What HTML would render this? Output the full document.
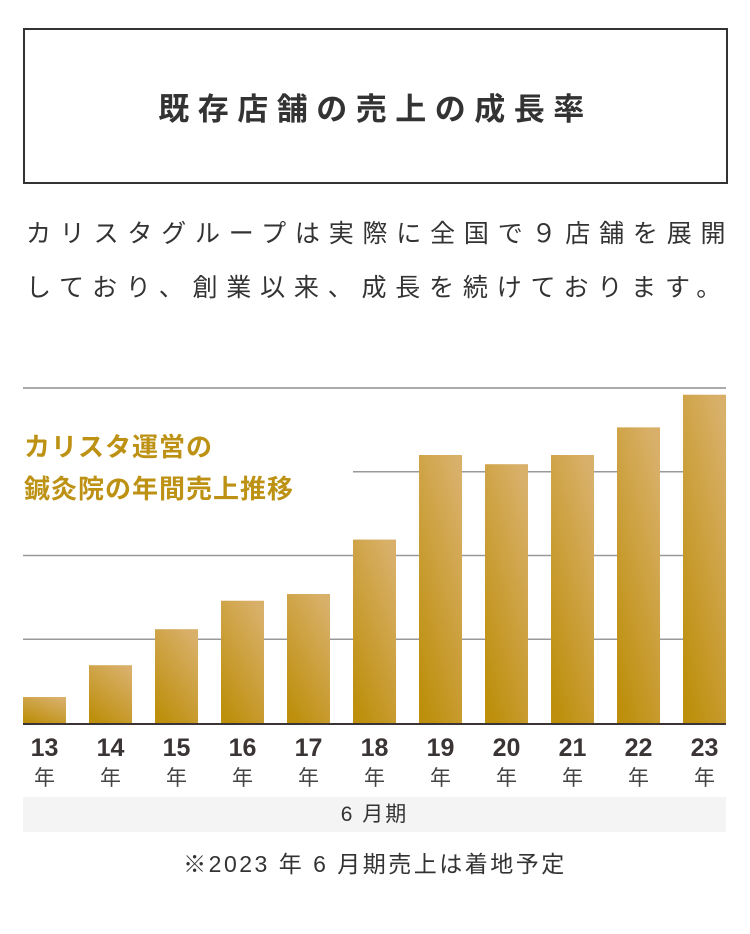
<!DOCTYPE html>
<html><head><meta charset="utf-8">
<style>
body{margin:0;background:#fff;width:750px;height:934px;overflow:hidden;font-family:"Liberation Sans","Noto Sans CJK JP",sans-serif;color:#333;position:relative}
.box{position:absolute;left:23px;top:28px;width:701px;height:152px;border:2px solid #333;display:flex;align-items:center;justify-content:center;font-size:31px;font-weight:bold;letter-spacing:8.5px;color:#333}
.intro{position:absolute;left:26px;top:207px;width:740px;font-size:25px;line-height:54px;letter-spacing:8.8px;color:#333;white-space:nowrap}
.lbl{position:absolute;left:24px;top:426px;font-size:26px;font-weight:bold;color:#bd9214;line-height:42px;letter-spacing:1px}
.period{position:absolute;left:23px;top:797px;width:703px;height:35px;background:#f4f4f4;text-align:center;font-size:21px;line-height:35px;color:#333;letter-spacing:2px}
.note{position:absolute;left:0;top:845px;width:750px;text-align:center;font-size:23px;color:#333;letter-spacing:2.5px}
</style></head><body>
<div class="box">既存店舗の売上の成長率</div>
<div class="intro">カリスタグループは実際に全国で９店舗を展開<br>しており、創業以来、成長を続けております。</div>
<svg id="chart" width="750" height="934" style="position:absolute;left:0;top:0">
<defs><linearGradient id="g" x1="0.8" y1="0" x2="0.2" y2="1"><stop offset="0" stop-color="#d9b06a"/><stop offset="1" stop-color="#bd8f0c"/></linearGradient></defs>
</svg>
<div class="lbl">カリスタ運営の<br>鍼灸院の年間売上推移</div>
<div class="period">6 月期</div>
<div class="note">※2023 年 6 月期売上は着地予定</div>
<script>
const categories=["13","14","15","16","17","18","19","20","21","22","23"];
const values=[0.31,0.69,1.12,1.46,1.54,2.19,3.2,3.09,3.2,3.53,3.92];
const gridTicks=[1,2,3,4];
const svg=document.getElementById('chart');
const NS='http://www.w3.org/2000/svg';
const y0=723,ppu=83.75,x0=23,step=66,bw=43;
const y=v=>y0-v*ppu;
const x=i=>x0+i*step;
gridTicks.forEach(t=>{
  const l=document.createElementNS(NS,'line');
  
  
  l.setAttribute('x1',t===3?353:23);l.setAttribute('x2',726);
  l.setAttribute('y1',y(t));l.setAttribute('y2',y(t));
  l.setAttribute('stroke',t===4?'#aaa':'#999');l.setAttribute('stroke-width',t===4?2:1.5);
  svg.appendChild(l);
});
categories.forEach((c,i)=>{
  const r=document.createElementNS(NS,'rect');
  
  
  r.setAttribute('x',x(i));r.setAttribute('y',y(values[i]));
  r.setAttribute('width',bw);r.setAttribute('height',values[i]*ppu);
  r.setAttribute('fill','url(#g)');
  svg.appendChild(r);
  const t=document.createElementNS(NS,'text');
  
  
  t.setAttribute('x',x(i)+bw/2);t.setAttribute('y',756);
  t.setAttribute('text-anchor','middle');t.setAttribute('font-size','25');t.setAttribute('font-weight','bold');t.setAttribute('fill','#3a3434');
  t.textContent=c;svg.appendChild(t);
  const t2=document.createElementNS(NS,'text');
  
  
  t2.setAttribute('x',x(i)+bw/2);t2.setAttribute('y',785);
  t2.setAttribute('text-anchor','middle');t2.setAttribute('font-size','21');t2.setAttribute('fill','#444');
  t2.textContent='年';svg.appendChild(t2);
});
const b=document.createElementNS(NS,'line');


b.setAttribute('x1',23);b.setAttribute('x2',726);b.setAttribute('y1',724);b.setAttribute('y2',724);
b.setAttribute('stroke','#3a3434');b.setAttribute('stroke-width',2);
svg.appendChild(b);
</script>
</body></html>
